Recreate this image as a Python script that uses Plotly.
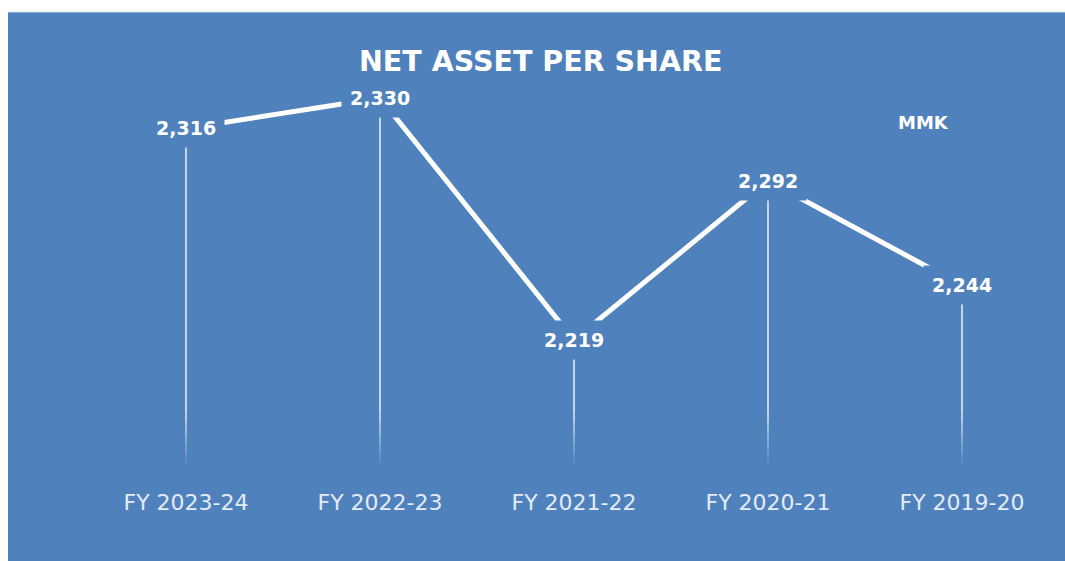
import plotly.graph_objects as go

categories = ["FY 2023-24", "FY 2022-23", "FY 2021-22", "FY 2020-21", "FY 2019-20"]
values = [2316, 2330, 2219, 2292, 2244]
value_labels = ["2,316", "2,330", "2,219", "2,292", "2,244"]
title_text = "NET ASSET PER SHARE"
unit_text = "MMK"

BLUE = "#4f81bd"
W, H = 1065, 561
ML, MR, MT, MB = 89, 6, 70, 96
Y_MIN, Y_MAX = 2161.7, 2342.8

fig = go.Figure()
xs = list(range(len(categories)))

# drop lines with fading bottom
span = Y_MAX - Y_MIN
fade_top = Y_MIN + span * 0.13
n_fade = 8
for i, v in enumerate(values):
    fig.add_trace(go.Scatter(x=[i, i], y=[v, fade_top], mode="lines",
                             line=dict(color="rgba(255,255,255,0.85)", width=1.6),
                             hoverinfo="skip", showlegend=False))
    step = (fade_top - Y_MIN) / n_fade
    for k in range(n_fade):
        a = 0.85 * (1 - (k + 1) / (n_fade + 1))
        y0 = fade_top - k * step
        fig.add_trace(go.Scatter(x=[i, i], y=[y0, y0 - step], mode="lines",
                                 line=dict(color=f"rgba(255,255,255,{a:.2f})", width=1.6),
                                 hoverinfo="skip", showlegend=False))

# main line
fig.add_trace(go.Scatter(x=xs, y=values, mode="lines",
                         line=dict(color="white", width=5),
                         hoverinfo="skip", showlegend=False))

for i, (v, t) in enumerate(zip(values, value_labels)):
    fig.add_annotation(x=i, y=v, xref="x", yref="y", text=t, showarrow=False,
                       xanchor="center", yanchor="middle",
                       font=dict(family="DejaVu Sans", size=19, color="white", weight="bold"),
                       bgcolor=BLUE, borderpad=8)

pw = W - ML - MR
ph = H - MT - MB

def px_x(p):
    return (p - ML) / pw

def px_y(p):
    return (H - MB - p) / ph

# white frame at top and left
fig.add_shape(type="rect", xref="paper", yref="paper",
              x0=px_x(0), x1=px_x(W), y0=px_y(12), y1=px_y(0),
              fillcolor="white", line_width=0, layer="above")
fig.add_shape(type="rect", xref="paper", yref="paper",
              x0=px_x(0), x1=px_x(8), y0=px_y(H), y1=px_y(0),
              fillcolor="white", line_width=0, layer="above")
fig.add_shape(type="line", xref="paper", yref="paper",
              x0=px_x(8), x1=px_x(W), y0=px_y(12), y1=px_y(12),
              line=dict(color="#d5dbe3", width=1.2), layer="above")

fig.add_annotation(x=px_x(540), y=px_y(61), xref="paper", yref="paper",
                   text=title_text, showarrow=False, xanchor="center", yanchor="middle",
                   font=dict(family="DejaVu Sans", size=28.5, color="white", weight="bold"))
fig.add_annotation(x=px_x(923), y=px_y(122), xref="paper", yref="paper",
                   text=unit_text, showarrow=False, xanchor="center", yanchor="middle",
                   font=dict(family="DejaVu Sans", size=18, color="white", weight="bold"))

fig.update_layout(
    width=W, height=H,
    margin=dict(l=ML, r=MR, t=MT, b=MB),
    paper_bgcolor=BLUE, plot_bgcolor="rgba(0,0,0,0)",
    xaxis=dict(range=[-0.5, len(categories) - 0.5], tickmode="array", tickvals=xs,
               ticktext=categories, showgrid=False, zeroline=False, showline=False,
               ticks="outside", ticklen=18, tickcolor="rgba(0,0,0,0)",
               tickfont=dict(family="DejaVu Sans", size=22, color="#e4ebf4"),
               fixedrange=True),
    yaxis=dict(range=[Y_MIN, Y_MAX], visible=False, showgrid=False, zeroline=False,
               fixedrange=True),
    showlegend=False,
)

fig.write_html("out.html", config={"displayModeBar": False},
               post_script="document.body.style.margin='0';document.body.style.overflow='hidden';")
